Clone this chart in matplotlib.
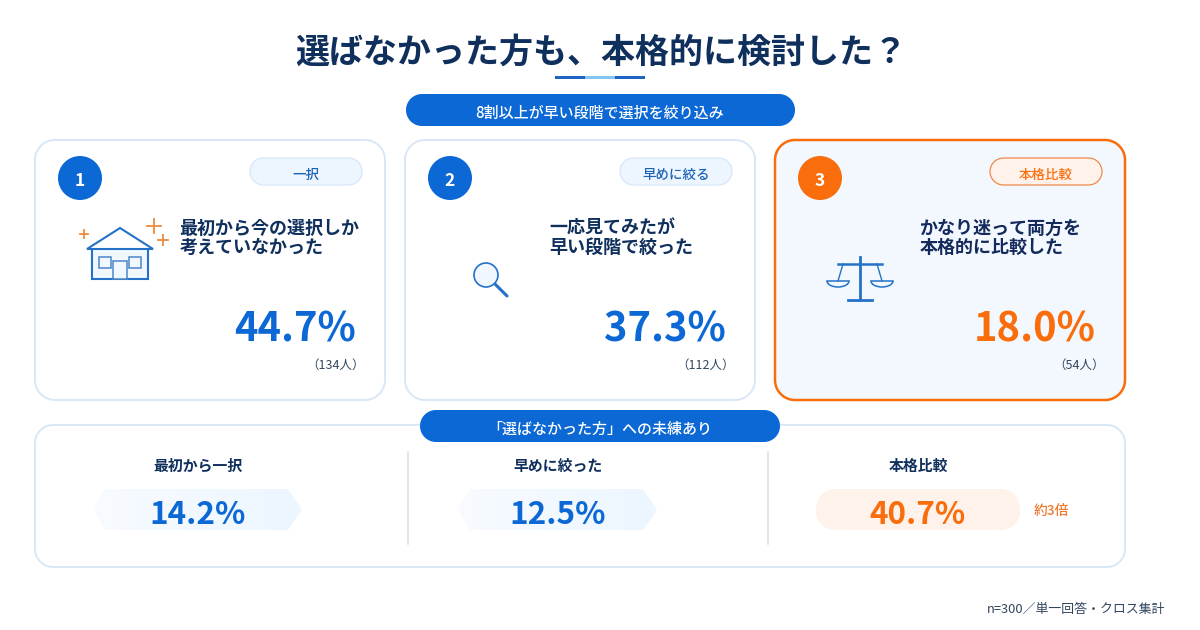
import matplotlib
matplotlib.use("Agg")
import matplotlib.pyplot as plt
import numpy as np
from matplotlib.patches import Circle, Polygon, Rectangle, Arc

plt.rcParams['font.family'] = ['Noto Sans CJK JP', 'DejaVu Sans']

title = "選ばなかった方も、本格的に検討した？"
banner_top = "8割以上が早い段階で選択を絞り込み"
banner_bottom = "「選ばなかった方」への未練あり"
tags = ["一択", "早めに絞る", "本格比較"]
line1 = ["最初から今の選択しか", "一応見てみたが", "かなり迷って両方を"]
line2 = ["考えていなかった", "早い段階で絞った", "本格的に比較した"]
shares = [44.7, 37.3, 18.0]
counts = [134, 112, 54]
regret_labels = ["最初から一択", "早めに絞った", "本格比較"]
regret_values = [14.2, 12.5, 40.7]
note = "n=300／単一回答・クロス集計"
multiple_note = "約3倍"

BLUE = "#0b68d4"; NAVY = "#0f2f5c"; ORANGE = "#f96d0c"; LINE = "#d9e7f7"
ICON = "#2472c8"; PALE = "#edf6fe"; PEACH = "#fff2ea"

fig = plt.figure(figsize=(12, 6.3), dpi=100, facecolor="white")
ax = fig.add_axes([0, 0, 1, 1])
ax.set_xlim(0, 1200); ax.set_ylim(630, 0); ax.axis("off")

def rounded_pts(x0, y0, x1, y1, r):
    pts = []
    for cx, cy, a0 in [(x1 - r, y0 + r, -90), (x1 - r, y1 - r, 0), (x0 + r, y1 - r, 90), (x0 + r, y0 + r, 180)]:
        a = np.radians(np.linspace(a0, a0 + 90, 24))
        pts.append(np.column_stack([cx + r * np.cos(a), cy + r * np.sin(a)]))
    return np.vstack(pts)

def rbox(x0, y0, x1, y1, r, fc, ec, lw=1.5, z=1):
    ax.add_patch(Polygon(rounded_pts(x0, y0, x1, y1, r), closed=True, fc=fc, ec=ec, lw=lw, zorder=z))

def t(x, y, s, size, color=NAVY, weight="bold", ha="center", z=6):
    ax.text(x, y, s, fontsize=size, color=color, fontweight=weight, ha=ha, va="center_baseline", zorder=z)

# header
t(601, 49, title, 24.5)
for x0, x1, c in [(555, 585, "#1f63c0"), (585, 615, "#85c4f0"), (615, 645, "#1f63c0")]:
    ax.add_patch(Rectangle((x0, 76), x1 - x0, 3, fc=c, ec="none"))
rbox(406, 94, 795, 126, 16, BLUE, "none", 0, 3)
t(600, 111.5, banner_top, 10.8, "white", "medium")

# cards
offsets = [35, 405, 775]
for i, ox in enumerate(offsets):
    hi = i == 2
    accent = ORANGE if hi else BLUE
    rbox(ox, 140, ox + 350, 400, 20, "#f2f8fe" if hi else "white", ORANGE if hi else LINE, 1.8 if hi else 1.4)
    ax.add_patch(Circle((ox + 45, 178), 22, fc=accent, ec="none", zorder=3))
    t(ox + 45, 178.5, str(i + 1), 12.5, "white")
    rbox(ox + 215, 158, ox + 327, 185, 13.5, PEACH if hi else PALE, "#ef8a4a" if hi else "#d6e6f8", 0.9, 3)
    t(ox + 271, 173, tags[i], 9.7, ORANGE if hi else "#1c62b5", "medium")
    t(ox + 144.5, 226, line1[i], 13, "#14295c" if hi else NAVY, ha="left")
    t(ox + 144.5, 245.5, line2[i], 13, "#14295c" if hi else NAVY, ha="left")
    t(ox + 321, 326, f"{shares[i]:.1f}%", 28.7, accent, ha="right")
    t(ox + 330, 364, f"（{counts[i]}人）", 9, "#33465f", "normal", ha="right")

# icon: house
ax.add_patch(Rectangle((92, 247), 56, 32, fc="#f1f7fe", ec=ICON, lw=1.5, zorder=3))
ax.add_patch(Polygon([(87, 249), (120, 228), (153, 249)], closed=True, fc="white", ec=ICON, lw=1.5, zorder=3))
for x0, y0, w, h in [(99, 257, 12, 11), (129, 257, 12, 11), (113, 261, 14, 18)]:
    ax.add_patch(Rectangle((x0, y0), w, h, fc="#f1f7fe", ec="#4a86c8", lw=1.1, zorder=4))
for x, y, s in [(153.5, 225.5, 7), (163, 240, 5), (84, 234, 4)]:
    ax.plot([x - s, x + s], [y, y], color="#ee8a3c", lw=1.3, zorder=4)
    ax.plot([x, x], [y - s, y + s], color="#ee8a3c", lw=1.3, zorder=4)

# icon: magnifier
ax.add_patch(Circle((486, 275), 12, fc="#f1f7fe", ec=ICON, lw=1.2, zorder=3))
ax.plot([495, 507], [284, 296], color=ICON, lw=2.2, solid_capstyle="round", zorder=3)

# icon: scales
ax.plot([860, 860], [257, 300], color=ICON, lw=2.0, zorder=3)
ax.plot([838, 882], [264, 264], color=ICON, lw=1.8, zorder=3)
ax.plot([848, 872], [300, 300], color=ICON, lw=2.0, zorder=3)
for px, sign in [(838, 1), (882, -1)]:
    ax.plot([px + sign * 5, px], [264, 281], color=ICON, lw=1.0, zorder=3)
    ax.plot([px - 11, px + 11], [281, 281], color=ICON, lw=1.1, zorder=3)
    ax.add_patch(Arc((px, 281), 22, 12, theta1=0, theta2=180, ec=ICON, lw=1.1, zorder=3))

# regret panel
rbox(35, 425, 1125, 567, 18, "white", LINE, 1.4)
rbox(420, 410, 780, 442, 16, BLUE, "none", 0, 3)
t(600, 427.5, banner_bottom, 10.8, "white", "medium")
for x in [408, 768]:
    ax.plot([x, x], [452, 544], color="#d8dee8", lw=1.1, zorder=2)

centres = [198, 558, 918]
plate_edges = [(93, 302), (458, 657), (816, 1020)]
for i, cx in enumerate(centres):
    hi = i == 2
    t(cx, 464.5, regret_labels[i], 10.7)
    x0, x1 = plate_edges[i]
    if hi:
        rbox(x0, 489, x1, 530, 19, PEACH, "none", 0, 2)
    else:
        plate = Polygon([(x0, 510), (x0 + 12, 489), (x1 - 14, 489), (x1, 510), (x1 - 14, 530), (x0 + 12, 530)],
                        closed=True, fc="none", ec="none", transform=ax.transData)
        ax.add_patch(plate)
        grad = np.linspace(0, 1, 64).reshape(1, -1)
        rgb = np.array([0xf8, 0xfb, 0xff]) * (1 - grad[..., None]) + np.array([0xec, 0xf6, 0xff]) * grad[..., None]
        im = ax.imshow(rgb / 255, extent=(x0, x1, 530, 489), aspect="auto", zorder=2)
        im.set_clip_path(plate)
    t(cx, 511, f"{regret_values[i]:.1f}%", 22.7, ORANGE if hi else BLUE)
ax.set_xlim(0, 1200); ax.set_ylim(630, 0)
t(1051, 509.5, multiple_note, 9.9, "#ef7a2e", "medium")

t(1165, 608, note, 9.3, "#33465f", "normal", ha="right")

fig.savefig("out.png", dpi=100, facecolor="white")
